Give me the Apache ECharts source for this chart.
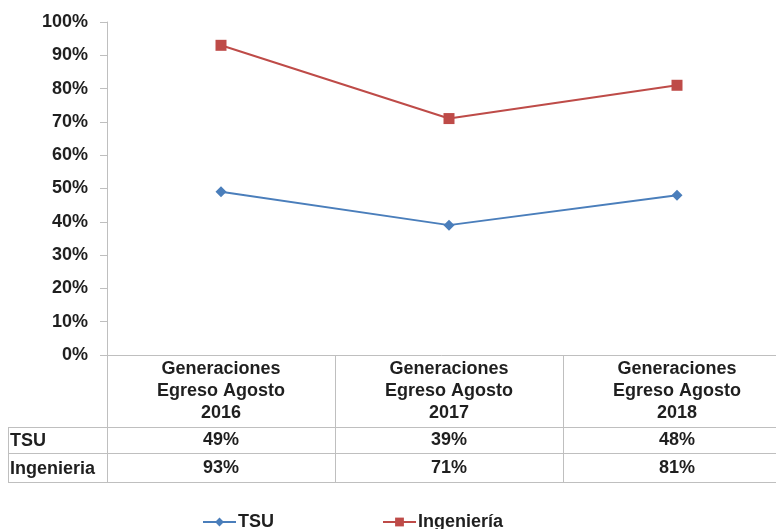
<!DOCTYPE html>
<html>
<head>
<meta charset="utf-8">
<script src="https://cdn.jsdelivr.net/npm/echarts@6/dist/echarts.min.js"></script>
<style>html,body{margin:0;padding:0;background:#fff}#c{width:776px;height:529px}</style>
</head>
<body>
<div id="c"></div>
<script>
const categories = ['Generaciones\nEgreso Agosto\n2016', 'Generaciones\nEgreso Agosto\n2017', 'Generaciones\nEgreso Agosto\n2018'];
const seriesNames = ['TSU', 'Ingeniería'];
const rowLabels = ['TSU', 'Ingenieria'];
const tsu = [49, 39, 48];
const ingenieria = [93, 71, 81];
const yTicks = [0, 10, 20, 30, 40, 50, 60, 70, 80, 90, 100];

const FONT = "'Liberation Sans', Arial, sans-serif";
const FS = 18;
const TXT = '#1f1f1f';
const GRID_C = '#bfbfbf';
const pct = v => v + '%';

const chart = echarts.init(document.getElementById('c'));
const gridTop = 22, gridBottomPx = 355, gridLeft = 107;
const row1 = 440, row2 = 468;

const option = {
  animation: false,
  textStyle: { fontFamily: FONT },
  grid: { left: gridLeft, top: gridTop, width: 684, bottom: 529 - gridBottomPx, containLabel: false, outerBoundsMode: 'none' },
  legend: {
    data: seriesNames,
    left: 197, top: 508, itemWidth: 33, itemHeight: 11, itemGap: 108,
    textStyle: { fontFamily: FONT, fontSize: FS, fontWeight: 'bold', color: TXT, padding: [0, 0, 0, -3] }
  },
  xAxis: [
    {
      type: 'category', data: categories, boundaryGap: true,
      axisLine: { show: true, lineStyle: { color: GRID_C, width: 1 } },
      axisTick: { show: true, interval: 0, length: 127, lineStyle: { color: GRID_C, width: 1 } },
      axisLabel: { interval: 0, margin: 3, fontFamily: FONT, fontSize: FS, fontWeight: 'bold', color: TXT, lineHeight: 22, align: 'center' }
    },
    {
      type: 'category', data: tsu.map(pct), position: 'bottom', boundaryGap: true,
      axisLine: { show: false }, axisTick: { show: false },
      axisLabel: { interval: 0, margin: row1 - gridBottomPx, verticalAlign: 'middle', fontFamily: FONT, fontSize: FS, fontWeight: 'bold', color: TXT }
    },
    {
      type: 'category', data: ingenieria.map(pct), position: 'bottom', boundaryGap: true,
      axisLine: { show: false }, axisTick: { show: false },
      axisLabel: { interval: 0, margin: row2 - gridBottomPx, verticalAlign: 'middle', fontFamily: FONT, fontSize: FS, fontWeight: 'bold', color: TXT }
    }
  ],
  yAxis: {
    type: 'value', min: yTicks[0], max: yTicks[yTicks.length - 1], interval: 10,
    axisLine: { show: true, lineStyle: { color: GRID_C, width: 1 } },
    axisTick: { show: true, length: 7, lineStyle: { color: GRID_C } },
    splitLine: { show: false },
    axisLabel: { formatter: '{value}%', margin: 19, fontFamily: FONT, fontSize: FS, fontWeight: 'bold', color: TXT }
  },
  series: [
    {
      name: seriesNames[0], type: 'line', data: tsu, xAxisIndex: 0,
      symbol: 'diamond', symbolSize: 11, showAllSymbol: true,
      lineStyle: { color: '#4a7ebb', width: 2 }, itemStyle: { color: '#4a7ebb' }
    },
    {
      name: seriesNames[1], type: 'line', data: ingenieria, xAxisIndex: 0,
      symbol: 'rect', symbolSize: 11, showAllSymbol: true,
      lineStyle: { color: '#be4b48', width: 2 }, itemStyle: { color: '#be4b48' }
    }
  ],
  graphic: [
    { type: 'line', shape: { x1: 8, y1: 427.5, x2: 776, y2: 427.5 }, style: { stroke: GRID_C, lineWidth: 1 } },
    { type: 'line', shape: { x1: 8, y1: 453.5, x2: 776, y2: 453.5 }, style: { stroke: GRID_C, lineWidth: 1 } },
    { type: 'line', shape: { x1: 8, y1: 482.5, x2: 776, y2: 482.5 }, style: { stroke: GRID_C, lineWidth: 1 } },
    { type: 'line', shape: { x1: 8.5, y1: 427, x2: 8.5, y2: 483 }, style: { stroke: GRID_C, lineWidth: 1 } },
    { type: 'text', left: 10, top: row1 - 8, style: { text: rowLabels[0], font: "bold " + FS + "px " + FONT, fill: TXT } },
    { type: 'text', left: 10, top: row2 - 8, style: { text: rowLabels[1], font: "bold " + FS + "px " + FONT, fill: TXT } }
  ]
};
chart.setOption(option);
</script>
</body>
</html>
